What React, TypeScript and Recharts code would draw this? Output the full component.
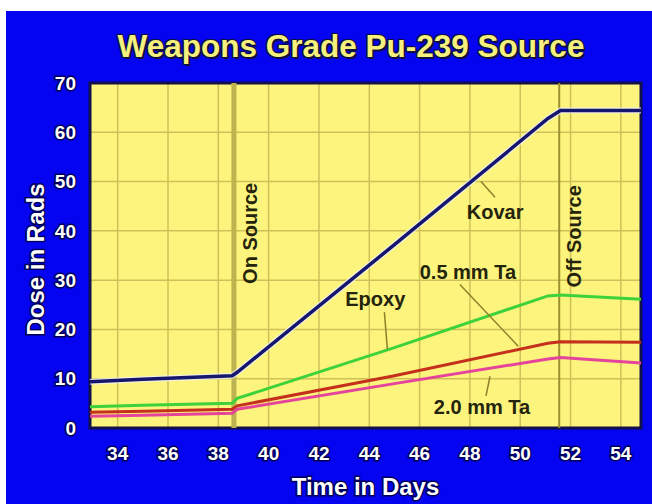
import React from 'react';
import {
  LineChart,
  Line,
  XAxis,
  YAxis,
  CartesianGrid,
  ReferenceLine,
  ReferenceArea,
  ReferenceDot
} from 'recharts';

// days since start
const days = [32.9, 35, 38.55, 38.75, 45, 51.1, 51.6, 54.8];
const kovar = [9.4, 9.9, 10.6, 11.3, 37.2, 62.8, 64.4, 64.4];
const epoxy = [4.3, 4.6, 5.0, 6.0, 16.3, 26.8, 27.0, 26.1];
const ta05 = [3.2, 3.4, 3.8, 4.5, 10.6, 17.2, 17.5, 17.4];
const ta20 = [2.4, 2.6, 3.0, 3.8, 9.0, 14.0, 14.3, 13.2];

const xTicks = [34, 36, 38, 40, 42, 44, 46, 48, 50, 52, 54];
const yTicks = [0, 10, 20, 30, 40, 50, 60, 70];

const onSource = 38.62;
const offSource = 51.55;

const data = days.map((day, i) => ({
  day,
  kovar: kovar[i],
  epoxy: epoxy[i],
  ta05: ta05[i],
  ta20: ta20[i]
}));

const font = 'Liberation Sans, Arial, sans-serif';

const tickStyle = {
  fill: '#ffffff',
  stroke: '#00005a',
  strokeWidth: 3,
  fontSize: 19,
  fontWeight: 'bold',
  fontFamily: font,
  style: { paintOrder: 'stroke' }
};

const axisTitle = {
  fill: '#ffffff',
  stroke: '#00005a',
  strokeWidth: 3,
  fontSize: 24,
  fontWeight: 'bold',
  fontFamily: font,
  style: { paintOrder: 'stroke' }
};

const noteStyle = {
  fill: '#24240c',
  fontSize: 20,
  fontWeight: 'bold',
  fontFamily: font
};

const leader = '#8c802c';

export default function App() {
  return (
    <div style={{ position: 'fixed', left: 0, top: 0, right: 0, bottom: 0, background: '#ffffff', overflow: 'hidden' }}>
      <div style={{ position: 'absolute', left: 6, top: 11, right: -20, bottom: -20, background: '#0404f0' }}>
        <LineChart width={646} height={493} data={data} margin={{ top: 72, right: 11, bottom: 0, left: 0 }}>
          <CartesianGrid fill="#fcf47c" fillOpacity={1} stroke="#cfc05a" strokeWidth={1.5} />
          <XAxis
            dataKey="day"
            type="number"
            domain={[32.9, 54.8]}
            ticks={xTicks}
            interval={0}
            height={76}
            tickLine={false}
            axisLine={false}
            tickMargin={13}
            tick={tickStyle}
            label={{ value: 'Time in Days', position: 'center', dy: 20, ...axisTitle }}
          />
          <YAxis
            type="number"
            domain={[0, 70]}
            ticks={yTicks}
            interval={0}
            width={84}
            tickLine={false}
            axisLine={false}
            tickMargin={8}
            tick={tickStyle}
            label={{ value: 'Dose in Rads', angle: -90, position: 'center', dx: -13, dy: 4, ...axisTitle }}
          />
          <ReferenceArea x1={32.9} x2={54.8} y1={0} y2={70} fill="none" stroke="#10104a" strokeWidth={3} />

          {/* on / off source markers */}
          <ReferenceLine x={onSource} stroke="#bdb350" strokeWidth={5} />
          <ReferenceLine x={offSource} stroke="#9a9030" strokeWidth={2} />
          <ReferenceDot x={39.24} y={39.5} r={0} fill="none" stroke="none"
            label={{ value: 'On Source', angle: -90, position: 'center', ...noteStyle }} />
          <ReferenceDot x={52.12} y={38.9} r={0} fill="none" stroke="none"
            label={{ value: 'Off Source', angle: -90, position: 'center', ...noteStyle }} />

          {/* series */}
          <Line dataKey="kovar" type="linear" stroke="#eef0ff" strokeOpacity={0.75} strokeWidth={6} dot={false} isAnimationActive={false} />
          <Line dataKey="epoxy" type="linear" stroke="#3ed23a" strokeWidth={3} dot={false} isAnimationActive={false} />
          <Line dataKey="ta05" type="linear" stroke="#c4301c" strokeWidth={3} dot={false} isAnimationActive={false} />
          <Line dataKey="ta20" type="linear" stroke="#e4449c" strokeWidth={3} dot={false} isAnimationActive={false} />
          <Line dataKey="kovar" type="linear" stroke="#16166c" strokeWidth={3.5} dot={false} isAnimationActive={false} />

          {/* callouts */}
          <ReferenceLine segment={[{ x: 48.44, y: 50 }, { x: 49.0, y: 46.8 }]} stroke={leader} strokeWidth={1.5} />
          <ReferenceLine segment={[{ x: 44.6, y: 23.5 }, { x: 44.72, y: 16 }]} stroke={leader} strokeWidth={1.5} />
          <ReferenceLine segment={[{ x: 47.6, y: 29.1 }, { x: 49.92, y: 16.6 }]} stroke={leader} strokeWidth={1.5} />
          <ReferenceLine segment={[{ x: 48.8, y: 10.5 }, { x: 48.64, y: 6.5 }]} stroke={leader} strokeWidth={1.5} />
          <ReferenceDot x={49.0} y={43.9} r={0} fill="none" stroke="none" label={{ value: 'Kovar', position: 'center', ...noteStyle }} />
          <ReferenceDot x={44.24} y={26.1} r={0} fill="none" stroke="none" label={{ value: 'Epoxy', position: 'center', ...noteStyle }} />
          <ReferenceDot x={47.92} y={31.6} r={0} fill="none" stroke="none" label={{ value: '0.5 mm Ta', position: 'center', ...noteStyle }} />
          <ReferenceDot x={48.48} y={4.25} r={0} fill="none" stroke="none" label={{ value: '2.0 mm Ta', position: 'center', ...noteStyle }} />
        </LineChart>
        <div
          style={{
            position: 'absolute',
            left: 0,
            top: 19,
            width: 690,
            textAlign: 'center',
            fontFamily: font,
            fontWeight: 'bold',
            fontSize: 31.5,
            lineHeight: '32px',
            color: '#f6f07c',
            textShadow: '-1px -1px 0 #101040, 1px -1px 0 #101040, -1px 1px 0 #101040, 1px 1px 0 #101040, 2px 2px 0 #101040'
          }}
        >
          Weapons Grade Pu-239 Source
        </div>
      </div>
    </div>
  );
}
